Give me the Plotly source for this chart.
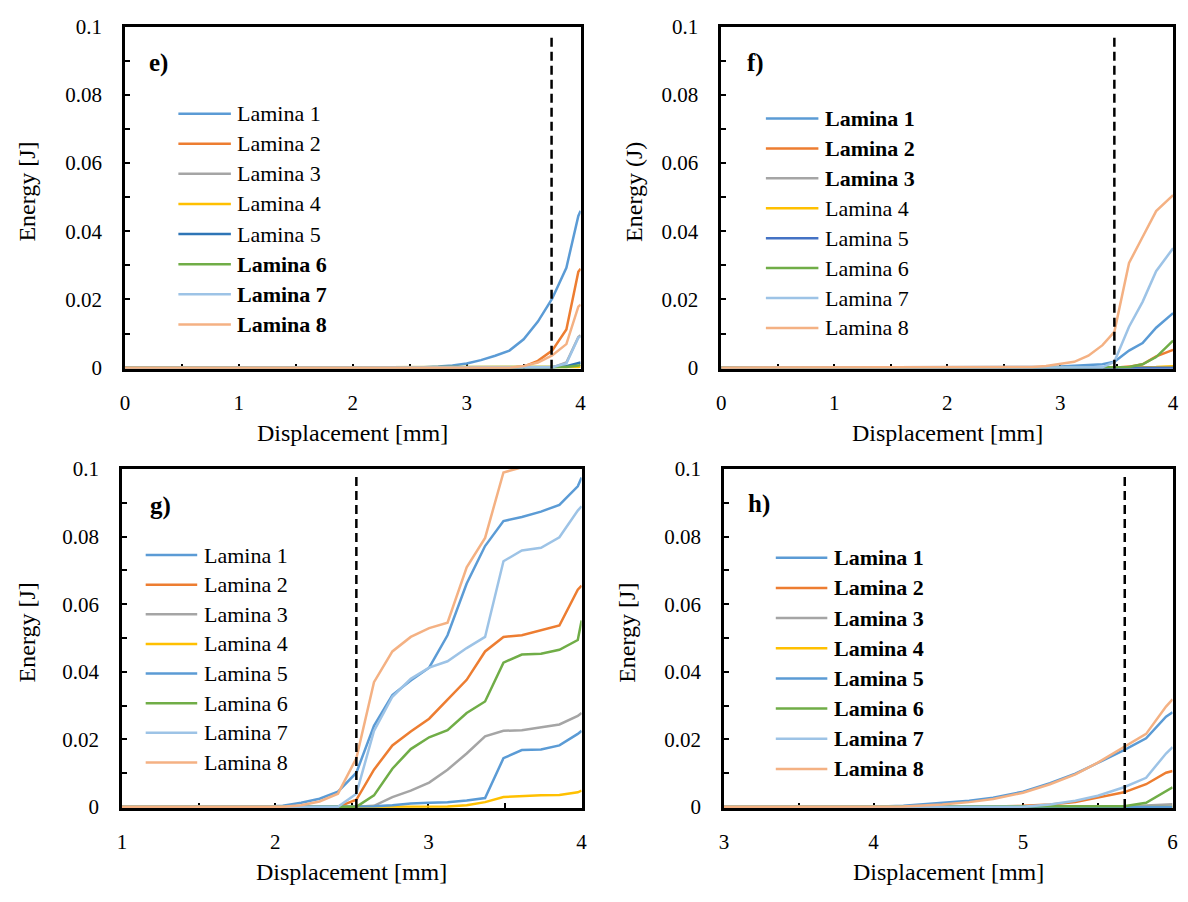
import plotly.graph_objects as go

W, H = 1188, 902
FONT = '"Liberation Serif", "Times New Roman", Times, serif'

names = ["Lamina 1", "Lamina 2", "Lamina 3", "Lamina 4",
         "Lamina 5", "Lamina 6", "Lamina 7", "Lamina 8"]

# ---------------- data ----------------
# panel e
x_e = [0, 2.5, 2.625, 2.75, 2.875, 3.0, 3.125, 3.25, 3.375, 3.5, 3.625, 3.75, 3.875, 3.98, 4.0]
e_l1 = [0, 0, 0.0001, 0.0003, 0.0006, 0.0012, 0.0022, 0.0035, 0.005, 0.0083, 0.0135, 0.0202, 0.0293, 0.0445, 0.046]
e_l2 = [0, 0, 0, 0, 0, 0, 0, 0, 0, 0.0003, 0.002, 0.005, 0.0112, 0.0281, 0.029]
e_l3 = [0, 0, 0, 0, 0, 0, 0, 0, 0, 0, 0, 0, 0.0015, 0.009, 0.0095]
e_l4 = [0, 0, 0, 0, 0, 0, 0, 0, 0, 0, 0, 0, 0, 0.0002, 0.0003]
e_l5 = [0, 0, 0, 0, 0, 0, 0, 0, 0, 0, 0, 0.0001, 0.0004, 0.0012, 0.0015]
e_l6 = [0, 0, 0, 0, 0, 0, 0, 0, 0, 0, 0, 0, 0.0002, 0.0006, 0.0008]
e_l7 = [0, 0, 0, 0, 0, 0, 0, 0, 0, 0, 0, 0.0001, 0.0012, 0.0088, 0.0091]
e_l8 = [0, 0, 0, 0, 0, 0, 0, 0, 0, 0.0005, 0.0015, 0.0036, 0.0069, 0.0179, 0.0185]

# panel f
x_f = [0, 2.5, 2.625, 2.75, 2.875, 3.0, 3.125, 3.25, 3.375, 3.48, 3.61, 3.73, 3.85, 4.0]
f_l1 = [0, 0, 0, 0.0001, 0.0002, 0.0003, 0.0005, 0.0007, 0.001, 0.0017, 0.005, 0.0072, 0.0117, 0.016]
f_l2 = [0, 0, 0, 0, 0, 0, 0, 0, 0, 0, 0.0003, 0.001, 0.0033, 0.0052]
f_l3 = [0, 0, 0, 0, 0, 0, 0, 0, 0, 0, 0, 0, 0, 0.0001]
f_l4 = [0, 0, 0, 0, 0, 0, 0, 0, 0, 0, 0, 0, 0.0002, 0.0004]
f_l5 = [0, 0, 0, 0, 0, 0, 0, 0, 0, 0, 0, 0, 0, 0]
f_l6 = [0, 0, 0, 0, 0, 0, 0, 0, 0, 0, 0.0002, 0.001, 0.0031, 0.0079]
f_l7 = [0, 0, 0, 0, 0, 0, 0, 0, 0.0001, 0.0017, 0.012, 0.0193, 0.0283, 0.035]
f_l8 = [0, 0, 0.0001, 0.0002, 0.0005, 0.001, 0.0017, 0.0035, 0.0066, 0.0105, 0.0307, 0.0383, 0.0459, 0.0506]

# panel g
x_g = [1.0, 1.93, 2.05, 2.17, 2.29, 2.41, 2.53, 2.645, 2.765, 2.885, 3.005, 3.125,
       3.25, 3.37, 3.49, 3.61, 3.735, 3.855, 3.975, 4.0]
g_l1 = [0, 0, 0.0003, 0.0012, 0.0024, 0.0045, 0.0101, 0.024, 0.0331, 0.0374, 0.0412, 0.0508,
        0.0661, 0.0772, 0.0846, 0.0858, 0.0874, 0.0894, 0.0949, 0.0975]
g_l2 = [0, 0, 0, 0, 0, 0, 0.0021, 0.011, 0.0182, 0.0223, 0.0261, 0.0316,
        0.0376, 0.046, 0.0503, 0.0508, 0.0523, 0.0537, 0.0643, 0.0655]
g_l3 = [0, 0, 0, 0, 0, 0, 0, 0.0003, 0.0029, 0.0048, 0.0072, 0.011,
        0.0158, 0.0209, 0.0225, 0.0227, 0.0235, 0.0244, 0.0269, 0.0278]
g_l4 = [0, 0, 0, 0, 0, 0, 0, 0, 0, 0, 0, 0.0001,
        0.0005, 0.0014, 0.0029, 0.0032, 0.0034, 0.0035, 0.0043, 0.0048]
g_l5 = [0, 0, 0, 0, 0, 0, 0, 0.0002, 0.0005, 0.001, 0.0012, 0.0014,
        0.0019, 0.0026, 0.0144, 0.0168, 0.017, 0.0182, 0.0216, 0.0225]
g_l6 = [0, 0, 0, 0, 0, 0, 0, 0.0034, 0.0113, 0.0171, 0.0206, 0.0227,
        0.0278, 0.0312, 0.0427, 0.0451, 0.0453, 0.0465, 0.0494, 0.0552]
g_l7 = [0, 0, 0, 0, 0, 0, 0.0039, 0.0225, 0.0326, 0.0379, 0.0412, 0.0431,
        0.047, 0.0503, 0.0727, 0.0759, 0.0767, 0.0798, 0.0877, 0.089]
g_l8 = [0, 0, 0, 0.0005, 0.0016, 0.0039, 0.0144, 0.0369, 0.046, 0.0503, 0.0529, 0.0545,
        0.0709, 0.0796, 0.099, 0.1005, 0.102, 0.104, 0.106, 0.108]

# panel h
x_h = [3.0, 4.0, 4.2, 4.46, 4.64, 4.8, 5.0, 5.18, 5.35, 5.5, 5.675, 5.823, 5.956, 6.0]
h_l1 = [0, 0, 0.0003, 0.0011, 0.0018, 0.0027, 0.0045, 0.007, 0.0098, 0.013, 0.0168, 0.0203, 0.0267, 0.028]
h_l2 = [0, 0, 0, 0, 0, 0.0001, 0.0003, 0.0007, 0.0014, 0.0027, 0.0043, 0.0067, 0.0101, 0.0106]
h_l3 = [0, 0, 0, 0, 0, 0, 0, 0, 0, 0, 0, 0.0004, 0.0007, 0.0008]
h_l4 = [0, 0, 0, 0, 0, 0, 0, 0, 0, 0, 0, 0, 0, 0]
h_l5 = [0, 0, 0, 0, 0, 0, 0, 0, 0, 0, 0, 0, 0, 0]
h_l6 = [0, 0, 0, 0, 0, 0, 0, 0, 0, 0, 0.0002, 0.0012, 0.0048, 0.0058]
h_l7 = [0, 0, 0, 0, 0, 0, 0, 0.0007, 0.0018, 0.0033, 0.0058, 0.0086, 0.0158, 0.0177]
h_l8 = [0, 0, 0.0001, 0.0007, 0.0014, 0.0023, 0.0042, 0.0067, 0.0096, 0.0131, 0.0177, 0.0216, 0.0297, 0.0318]

# vertical dashed markers (displacement, mm)
dash_e, dash_f, dash_g, dash_h = 3.745, 3.48, 2.53, 5.68

# ---------------- styling ----------------
base_cols = ["#5B9BD5", "#ED7D31", "#A5A5A5", "#FFC000", "#5B9BD5", "#70AD47", "#9DC3E6", "#F4B183"]

panels = [
    dict(key="e", label="e)", x=x_e, ys=[e_l1, e_l2, e_l3, e_l4, e_l5, e_l6, e_l7, e_l8],
         xr=[0, 4], dash=dash_e, ytitle="Energy [J]", l5="#2E75B6",
         bold=[0, 0, 0, 0, 0, 1, 1, 1],
         box=(121, 581, 15, 366), ytx=22, lab=(143, 52), leg=(175, 228, 232, 104.3, 30.9)),
    dict(key="f", label="f)", x=x_f, ys=[f_l1, f_l2, f_l3, f_l4, f_l5, f_l6, f_l7, f_l8],
         xr=[0, 4], dash=dash_f, ytitle="Energy (J)", l5="#4472C4",
         bold=[1, 1, 1, 0, 0, 0, 0, 0],
         box=(723, 1179, 15, 366), ytx=635, lab=(747, 52), leg=(768, 821, 826, 109.3, 30.7)),
    dict(key="g", label="g)", x=x_g, ys=[g_l1, g_l2, g_l3, g_l4, g_l5, g_l6, g_l7, g_l8],
         xr=[1, 4], dash=dash_g, ytitle="Energy [J]", l5="#5B9BD5",
         bold=[0] * 8,
         box=(118, 582, 469, 816.7), ytx=22, lab=(144, 507), leg=(142, 194, 199, 557.3, 30.4)),
    dict(key="h", label="h)", x=x_h, ys=[h_l1, h_l2, h_l3, h_l4, h_l5, h_l6, h_l7, h_l8],
         xr=[3, 6], dash=dash_h, ytitle="Energy [J]", l5="#5B9BD5",
         bold=[1] * 8,
         box=(725.7, 1178.5, 469, 816.7), ytx=627, lab=(748, 505), leg=(778, 830, 835, 560, 30.96)),
]


def px(x):
    return x / W


def py(y):
    return 1 - y / H


fig = go.Figure()
shapes, annos = [], []
layout = {}

for i, p in enumerate(panels):
    n = "" if i == 0 else str(i + 1)
    xa, ya = "x" + n, "y" + n
    x0, x1, y0, y1 = p["box"]
    cols = list(base_cols)
    cols[4] = p["l5"]
    for k in range(8):
        fig.add_trace(go.Scatter(x=p["x"], y=p["ys"][k], mode="lines", name=names[k],
                                 line=dict(color=cols[k], width=2.5),
                                 xaxis=xa, yaxis=ya, showlegend=False, hoverinfo="skip"))
    axis_common = dict(showline=True, linecolor="black", linewidth=2.5, mirror=True,
                       ticks="inside", ticklen=5, tickwidth=2, tickcolor="black",
                       showgrid=False, zeroline=False, layer="below traces",
                       tickfont=dict(family=FONT, size=21, color="black"))
    layout["xaxis" + n] = dict(axis_common, domain=[px(x0), px(x1)], range=p["xr"],
                               anchor=ya, dtick=1, tick0=0, ticklabelstandoff=13,
                               minor=dict(ticks="inside", ticklen=5, tickwidth=2,
                                          tickcolor="black", dtick=0.5, tick0=0))
    layout["yaxis" + n] = dict(axis_common, domain=[py(y1), py(y0)], range=[-0.0003, 0.1],
                               anchor=xa, dtick=0.02, tick0=0, ticklabelstandoff=16,
                               minor=dict(ticks="inside", ticklen=5, tickwidth=2,
                                          tickcolor="black", dtick=0.01, tick0=0))
    # dashed vertical line
    shapes.append(dict(type="line", xref=xa, yref=ya + " domain", x0=p["dash"], x1=p["dash"],
                       y0=0, y1=0.98, line=dict(color="black", width=2.5, dash="9px,5px")))
    # axis titles
    annos.append(dict(text=p["ytitle"], x=px(p["ytx"]), y=py((y0 + y1) / 2 - 6), xref="paper",
                      yref="paper", showarrow=False, textangle=-90,
                      font=dict(family=FONT, size=24, color="black"),
                      xanchor="center", yanchor="middle"))
    annos.append(dict(text="Displacement [mm]", x=px((x0 + x1) / 2), y=py(y1 + 66), xref="paper",
                      yref="paper", showarrow=False,
                      font=dict(family=FONT, size=24, color="black"),
                      xanchor="center", yanchor="middle"))
    # panel label
    annos.append(dict(text="<b>" + p["label"] + "</b>", x=px(p["lab"][0]), y=py(p["lab"][1]),
                      xref="paper", yref="paper", showarrow=False, xanchor="left",
                      yanchor="middle", font=dict(family=FONT, size=25, color="black")))
    # legend
    lx0, lx1, tx, ly, dy = p["leg"]
    for k in range(8):
        yy = ly + k * dy
        shapes.append(dict(type="line", xref="paper", yref="paper", x0=px(lx0), x1=px(lx1),
                           y0=py(yy), y1=py(yy), line=dict(color=cols[k], width=2.5)))
        txt = "<b>" + names[k] + "</b>" if p["bold"][k] else names[k]
        annos.append(dict(text=txt, x=px(tx), y=py(yy), xref="paper", yref="paper",
                          showarrow=False, xanchor="left", yanchor="middle",
                          font=dict(family=FONT, size=22, color="black")))

fig.update_layout(**layout)
fig.update_layout(width=W, height=H, margin=dict(l=0, r=0, t=0, b=0),
                  paper_bgcolor="white", plot_bgcolor="white",
                  shapes=shapes, annotations=annos, showlegend=False,
                  font=dict(family=FONT, color="black"))
fig.write_html("out.html",
               post_script="document.body.style.margin='0';document.body.style.padding='0';"
                           "document.body.style.overflow='hidden';")
